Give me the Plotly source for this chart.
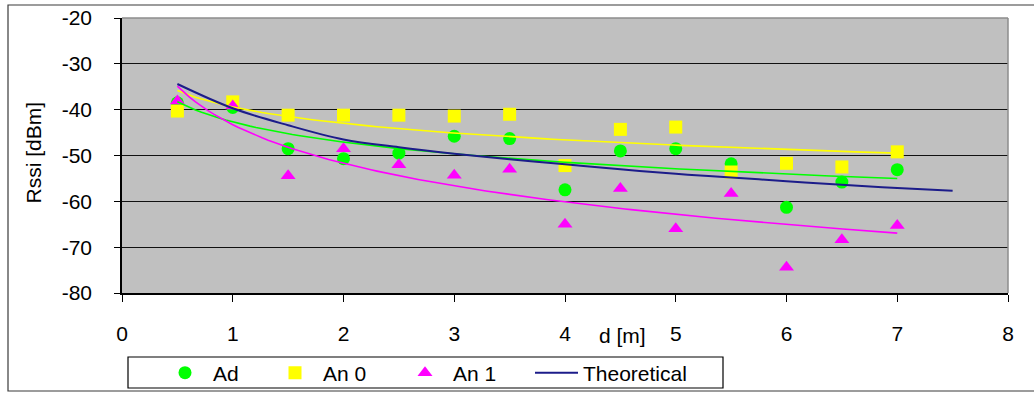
import numpy as np
import plotly.graph_objects as go

# distance [m] of each measurement
d = [0.5, 1, 1.5, 2, 2.5, 3, 3.5, 4, 4.5, 5, 5.5, 6, 6.5, 7]

# measured RSSI [dBm]
ad = [-38.5, -39.5, -48.5, -50.7, -49.5, -45.8, -46.3, -57.5, -49.0, -48.5, -51.8, -61.3, -55.8, -53.1]
an0 = [-40.3, -38.3, -41.2, -41.2, -41.2, -41.4, -41.0, -52.2, -44.3, -43.8, -53.6, -51.7, -52.5, -49.2]
an1 = [-38.1, -39.2, -54.4, -48.5, -52.0, -54.3, -53.0, -65.0, -57.2, -66.0, -58.3, -74.4, -68.4, -65.3]

# theoretical path-loss curve
theo_d = [0.5, 1, 1.5, 2, 2.5, 3, 3.5, 4, 4.5, 5, 5.5, 6, 6.5, 7, 7.5]
theo = [-34.4, -39.7, -43.4, -46.5, -48.2, -49.6, -50.8, -51.9, -53.0, -54.0, -54.8, -55.6, -56.4, -57.1, -57.7]

y_ticks = [-80, -70, -60, -50, -40, -30, -20]
y_labels = ["-80", "-70", "-60", "-50", "-40", "-30", "-20"]
x_ticks = [0, 1, 2, 3, 4, 5, 6, 7, 8]

FONT = "Liberation Sans, Arial, sans-serif"
FS = 21
GREEN, YELLOW, MAGENTA, NAVY = "#00FF00", "#FFFF00", "#FF00FF", "#1C1C8A"

fig = go.Figure()

series = [
    ("Ad", ad, GREEN, "circle", "legend"),
    ("An 0", an0, YELLOW, "square", "legend2"),
    ("An 1", an1, MAGENTA, "triangle-up", "legend3"),
]

for name, vals, color, symbol, leg in series:
    fig.add_trace(go.Scatter(
        x=d, y=vals, mode="markers", name=name, legend=leg,
        marker=dict(color=color, symbol=symbol, size=13, line=dict(width=0)),
    ))

# logarithmic trend line of each measured series
xs = np.linspace(min(d), max(d), 120)
for name, vals, color, symbol, leg in series:
    b, a = np.polyfit(np.log(d), vals, 1)
    fig.add_trace(go.Scatter(
        x=xs, y=a + b * np.log(xs), mode="lines", showlegend=False,
        line=dict(color=color, width=1.6), hoverinfo="skip",
    ))

fig.add_trace(go.Scatter(
    x=theo_d, y=theo, mode="lines", name="Theoretical", legend="legend4",
    line=dict(color=NAVY, width=2, shape="spline"),
))

L, R, T, B = 122, 26, 18, 100
W, H = 1034, 393
pw, ph = W - L - R, H - T - B


def px_x(x):
    return (x - L) / pw


def px_y(y):
    return (H - B - y) / ph


leg_common = dict(
    orientation="h", xanchor="left", yanchor="middle", y=px_y(373),
    bgcolor="rgba(0,0,0,0)", borderwidth=0,
    font=dict(family=FONT, size=FS, color="black"),
)

fig.update_layout(
    width=W, height=H,
    margin=dict(l=L, r=R, t=T, b=B, autoexpand=False),
    paper_bgcolor="white",
    plot_bgcolor="#C0C0C0",
    font=dict(family=FONT, size=FS, color="black"),
    legend=dict(x=px_x(157), itemwidth=46, **leg_common),
    legend2=dict(x=px_x(267), itemwidth=46, **leg_common),
    legend3=dict(x=px_x(397), itemwidth=46, **leg_common),
    legend4=dict(x=px_x(530), itemwidth=43, **leg_common),
    xaxis=dict(
        range=[0, 8], tickvals=x_ticks, ticks="outside", ticklen=7,
        tickcolor="black", showgrid=False, zeroline=False,
        showline=True, linecolor="black", linewidth=1.5,
        ticklabelstandoff=14, tickfont=dict(size=FS),
    ),
    yaxis=dict(
        range=[-80, -20], tickvals=y_ticks, ticktext=y_labels,
        ticks="outside", ticklen=6,
        tickcolor="black", showgrid=True, gridcolor="#111111", gridwidth=1.2,
        zeroline=False, showline=True, linecolor="black", linewidth=1.5,
        ticklabelstandoff=18, tickfont=dict(size=FS),
    ),
    annotations=[
        dict(text="Rssi [dBm]", xref="paper", yref="paper", x=0, y=0.5,
             xshift=-89, yshift=3, textangle=-90, showarrow=False,
             xanchor="center", yanchor="middle", font=dict(size=FS)),
        dict(text="d [m]", xref="paper", yref="paper", x=px_x(622), y=px_y(335),
             showarrow=False, xanchor="center", yanchor="middle",
             font=dict(size=FS)),
    ],
    shapes=[
        # plot frame, top and right edges
        dict(type="line", xref="paper", yref="paper", x0=0, x1=1, y0=1, y1=1,
             line=dict(color="#8C8C8C", width=1.5), layer="above"),
        dict(type="line", xref="paper", yref="paper", x0=1, x1=1, y0=0, y1=1,
             line=dict(color="#8C8C8C", width=1.5), layer="above"),
        # legend box
        dict(type="rect", xref="paper", yref="paper",
             x0=px_x(128), x1=px_x(723), y0=px_y(388), y1=px_y(357),
             line=dict(color="black", width=1.2)),
        # chart frame
        dict(type="rect", xref="paper", yref="paper",
             x0=px_x(8), x1=px_x(1045), y0=px_y(391), y1=px_y(5),
             line=dict(color="#3A3A3A", width=1.2)),
    ],
)

fig.write_html("out.html")
